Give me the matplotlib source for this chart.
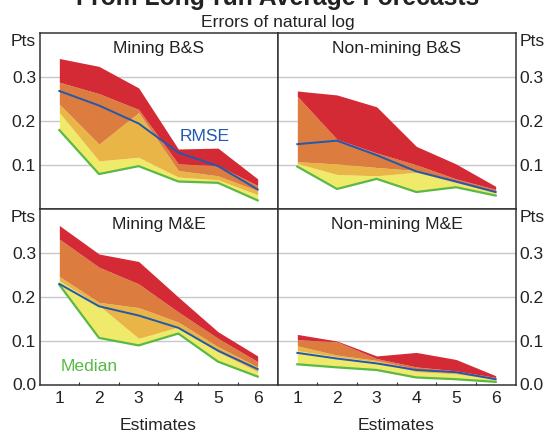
import numpy as np
import matplotlib
matplotlib.use("Agg")
import matplotlib.pyplot as plt

plt.rcParams['font.family'] = ['Liberation Sans', 'DejaVu Sans']

estimates = [1, 2, 3, 4, 5, 6]

# Mining B&S
mining_bs_median = [0.179, 0.079, 0.097, 0.062, 0.059, 0.019]
mining_bs_p1 = [0.219, 0.109, 0.117, 0.072, 0.066, 0.032]
mining_bs_p2 = [0.238, 0.147, 0.219, 0.087, 0.075, 0.041]
mining_bs_p3 = [0.288, 0.262, 0.226, 0.102, 0.098, 0.053]
mining_bs_p4 = [0.342, 0.324, 0.275, 0.136, 0.138, 0.068]
mining_bs_rmse = [0.268, 0.235, 0.194, 0.128, 0.097, 0.044]

# Non-mining B&S
nonmining_bs_median = [0.096, 0.045, 0.068, 0.038, 0.049, 0.030]
nonmining_bs_p1 = [0.103, 0.078, 0.075, 0.083, 0.059, 0.036]
nonmining_bs_p2 = [0.107, 0.102, 0.094, 0.087, 0.060, 0.040]
nonmining_bs_p3 = [0.256, 0.158, 0.127, 0.100, 0.068, 0.044]
nonmining_bs_p4 = [0.268, 0.259, 0.232, 0.142, 0.102, 0.051]
nonmining_bs_rmse = [0.147, 0.155, 0.122, 0.085, 0.062, 0.038]

# Mining M&E
mining_me_median = [0.227, 0.106, 0.089, 0.116, 0.052, 0.018]
mining_me_p1 = [0.236, 0.180, 0.105, 0.131, 0.074, 0.029]
mining_me_p2 = [0.246, 0.187, 0.175, 0.142, 0.086, 0.040]
mining_me_p3 = [0.331, 0.267, 0.229, 0.165, 0.105, 0.052]
mining_me_p4 = [0.362, 0.297, 0.280, 0.199, 0.120, 0.065]
mining_me_rmse = [0.229, 0.178, 0.157, 0.129, 0.077, 0.035]

# Non-mining M&E
nonmining_me_median = [0.046, 0.039, 0.033, 0.016, 0.012, 0.006]
nonmining_me_p1 = [0.077, 0.063, 0.052, 0.029, 0.024, 0.012]
nonmining_me_p2 = [0.088, 0.067, 0.055, 0.035, 0.027, 0.014]
nonmining_me_p3 = [0.102, 0.097, 0.059, 0.040, 0.031, 0.016]
nonmining_me_p4 = [0.114, 0.099, 0.065, 0.073, 0.057, 0.020]
nonmining_me_rmse = [0.072, 0.059, 0.048, 0.033, 0.028, 0.012]

panels = [
    ("Mining B&S", [mining_bs_median, mining_bs_p1, mining_bs_p2, mining_bs_p3, mining_bs_p4], mining_bs_rmse),
    ("Non-mining B&S", [nonmining_bs_median, nonmining_bs_p1, nonmining_bs_p2, nonmining_bs_p3, nonmining_bs_p4], nonmining_bs_rmse),
    ("Mining M&E", [mining_me_median, mining_me_p1, mining_me_p2, mining_me_p3, mining_me_p4], mining_me_rmse),
    ("Non-mining M&E", [nonmining_me_median, nonmining_me_p1, nonmining_me_p2, nonmining_me_p3, nonmining_me_p4], nonmining_me_rmse),
]

band_colors = ["#f0ea6a", "#e9b546", "#dc7c3f", "#d32a36"]
blue = "#2059ad"
green = "#5ab946"
text_col = "#222222"
fs = 12.6

W, H = 547, 432
fig = plt.figure(figsize=(W / 100, H / 100), dpi=100)
left, right, top, bottom = 39.5, 515.5, 33, 384.5
mid_x = (left + right) / 2
pw = (right - left) / 2
ph = (bottom - top) / 2

for i, (title, bands, rmse) in enumerate(panels):
    row, col = divmod(i, 2)
    x0 = left + col * pw
    y0 = H - (top + (row + 1) * ph)
    ax = fig.add_axes([x0 / W, y0 / H, pw / W, ph / H])
    ax.set_xlim(0.5, 6.5)
    ax.set_ylim(0, 0.4)

    for y in [0.1, 0.2, 0.3]:
        ax.axhline(y, color="#c8c8c8", lw=1.0, zorder=0)

    for k in range(4):
        ax.fill_between(estimates, bands[k], bands[k + 1], color=band_colors[k], lw=0, zorder=1)
    ax.plot(estimates, bands[0], color=green, lw=1.6, zorder=3)
    ax.plot(estimates, rmse, color=blue, lw=1.4, zorder=4)

    for s in ax.spines.values():
        s.set_color("#333333")
        s.set_linewidth(1.1)

    ax.text(0.5, 1 - 20.5 / ph, title, transform=ax.transAxes, ha="center",
            va="baseline", fontsize=fs, color=text_col)

    if row == 0:
        ax.set_yticks([0.1, 0.2, 0.3])
        ax.set_yticklabels(["0.1", "0.2", "0.3"])
        ax.set_xticks([])
    else:
        ax.set_yticks([0.0, 0.1, 0.2, 0.3])
        ax.set_yticklabels(["0.0", "0.1", "0.2", "0.3"])
        ax.set_xticks(estimates)
        ax.set_xticklabels([str(e) for e in estimates])
        ax.set_xticks([1.5, 2.5, 3.5, 4.5, 5.5], minor=True)
        ax.tick_params(axis="x", which="major", length=0, pad=4.5,
                       labelsize=fs, labelcolor=text_col)
        ax.tick_params(axis="x", which="minor", direction="in", length=2.5,
                       width=0.8, color="#333333")
        ax.text(0.5, -(429.5 - bottom) / ph, "Estimates",
                transform=ax.transAxes, ha="center", va="baseline",
                fontsize=fs, color=text_col)

    if col == 0:
        ax.yaxis.tick_left()
        ax.tick_params(axis="y", length=0, pad=2.5, labelsize=fs, labelcolor=text_col)
        ax.text(-3.5 / pw, 1 - 13.5 / ph, "Pts", transform=ax.transAxes, ha="right",
                va="baseline", fontsize=fs, color=text_col)
    else:
        ax.yaxis.tick_right()
        ax.tick_params(axis="y", length=0, pad=2.5, labelsize=fs, labelcolor=text_col)
        ax.text(1 + 4 / pw, 1 - 13.5 / ph, "Pts", transform=ax.transAxes, ha="left",
                va="baseline", fontsize=fs, color=text_col)

    if i == 0:
        ax.text(4.02, 0.155, "RMSE", color=blue, fontsize=fs, va="baseline", ha="left")
    if i == 2:
        ax.text(1.02, 0.031, "Median", color=green, fontsize=fs, va="baseline", ha="left")

fig.text(mid_x / W, 1 - 5 / H, "From Long-run Average Forecasts", ha="center",
         va="baseline", fontsize=17.8, fontweight="bold", color=text_col)
fig.text(mid_x / W, 1 - 27 / H, "Errors of natural log", ha="center",
         va="baseline", fontsize=fs, color=text_col)

fig.savefig("out.png", dpi=100)
